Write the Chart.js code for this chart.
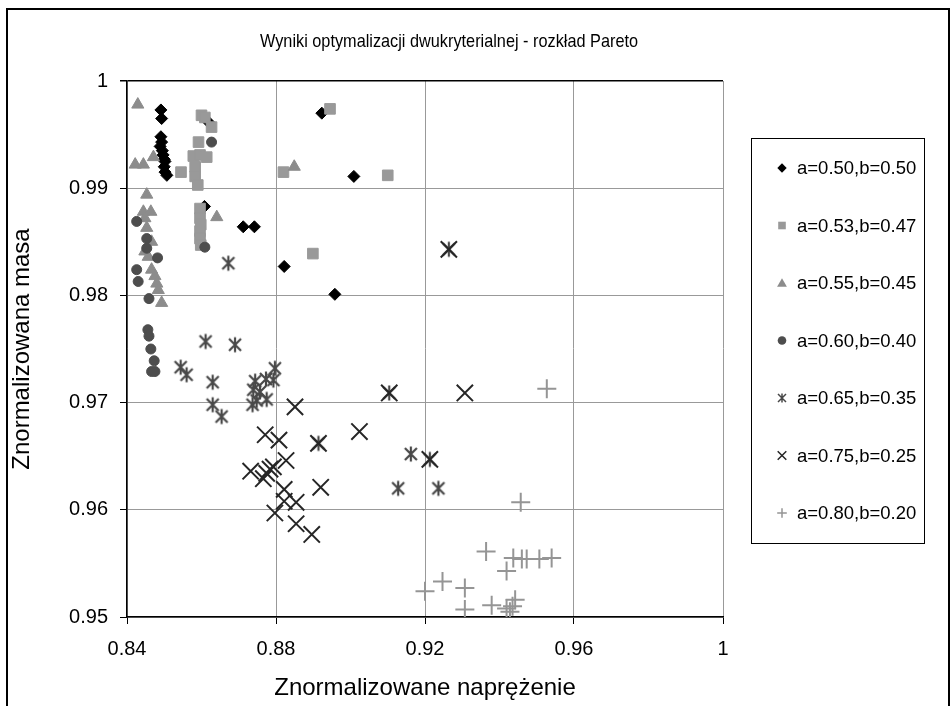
<!DOCTYPE html>
<html>
<head>
<meta charset="utf-8">
<script src="https://cdn.jsdelivr.net/npm/chart.js"></script>
<style>
  html, body { margin: 0; padding: 0; background: #fff; }
  #wrap { width: 951px; height: 706px; }
</style>
</head>
<body>
<div id="wrap"><canvas id="c" width="951" height="706"></canvas></div>
<script>
// Pareto front points: [normalized stress, normalized mass]
const s050 = [[0.8491,0.9973],[0.8493,0.9965],[0.8491,0.9948],[0.8493,0.9943],[0.8489,0.9939],[0.8495,0.9935],[0.8497,0.9931],[0.8500,0.9927],[0.8502,0.9925],[0.8500,0.9920],[0.8502,0.9915],[0.8507,0.9912],[0.8618,0.9962],[0.8608,0.9883],[0.8712,0.9864],[0.8742,0.9864],[0.8923,0.9970],[0.9009,0.9911],[0.8822,0.9827],[0.8958,0.9801]];
const s053 = [[0.8600,0.9968],[0.8609,0.9966],[0.8627,0.9957],[0.8592,0.9943],[0.8578,0.9930],[0.8596,0.9931],[0.8614,0.9929],[0.8583,0.9920],[0.8583,0.9911],[0.8590,0.9903],[0.8545,0.9915],[0.8596,0.9881],[0.8596,0.9872],[0.8598,0.9866],[0.8596,0.9860],[0.8596,0.9853],[0.8598,0.9847],[0.8945,0.9974],[0.8820,0.9915],[0.9100,0.9912],[0.8899,0.9839]];
const s055 = [[0.8429,0.9978],[0.8422,0.9922],[0.8444,0.9922],[0.8471,0.9929],[0.8453,0.9894],[0.8444,0.9878],[0.8464,0.9878],[0.8448,0.9872],[0.8453,0.9863],[0.8641,0.9873],[0.8849,0.9920],[0.8466,0.9850],[0.8448,0.9841],[0.8457,0.9836],[0.8466,0.9824],[0.8475,0.9818],[0.8480,0.9811],[0.8484,0.9805],[0.8493,0.9793]];
const s060 = [[0.8627,0.9943],[0.8426,0.9869],[0.8453,0.9853],[0.8453,0.9844],[0.8482,0.9835],[0.8426,0.9824],[0.8430,0.9813],[0.8459,0.9797],[0.8456,0.9768],[0.8459,0.9762],[0.8464,0.9750],[0.8473,0.9739],[0.8466,0.9729],[0.8475,0.9729],[0.8609,0.9845]];
const s065 = [[0.8672,0.9830],[0.8611,0.9757],[0.8690,0.9754],[0.8544,0.9733],[0.8560,0.9726],[0.8630,0.9719],[0.8630,0.9698],[0.8654,0.9687],[0.8744,0.9720],[0.8739,0.9712],[0.8757,0.9710],[0.8748,0.9702],[0.8737,0.9698],[0.8773,0.9722],[0.8793,0.9721],[0.8797,0.9732],[0.8775,0.9703],[0.9264,0.9843],[0.9104,0.9709],[0.9162,0.9652],[0.9213,0.9647],[0.9128,0.9620],[0.9236,0.9620],[0.8914,0.9662]];
const s075 = [[0.8851,0.9696],[0.8771,0.9670],[0.8808,0.9665],[0.8914,0.9662],[0.8827,0.9646],[0.8732,0.9636],[0.8766,0.9629],[0.8784,0.9638],[0.8793,0.9640],[0.8775,0.9634],[0.8920,0.9621],[0.8822,0.9619],[0.8822,0.9608],[0.8854,0.9607],[0.8797,0.9597],[0.8854,0.9587],[0.8896,0.9577],[0.9024,0.9673],[0.9307,0.9709],[0.9213,0.9647],[0.9104,0.9709],[0.9264,0.9843]];
const s080 = [[0.9527,0.9713],[0.9457,0.9607],[0.9364,0.9561],[0.9437,0.9555],[0.9460,0.9554],[0.9473,0.9554],[0.9507,0.9554],[0.9540,0.9555],[0.9419,0.9543],[0.9247,0.9533],[0.9200,0.9524],[0.9307,0.9527],[0.9307,0.9507],[0.9379,0.9511],[0.9419,0.9508],[0.9442,0.9516],[0.9428,0.9505],[0.9435,0.9510]];

const seriesNames = ['a=0.50,b=0.50','a=0.53,b=0.47','a=0.55,b=0.45','a=0.60,b=0.40','a=0.65,b=0.35','a=0.75,b=0.25','a=0.80,b=0.20'];
const xTicks = [0.84, 0.88, 0.92, 0.96, 1];
const xTickLabels = ['0.84', '0.88', '0.92', '0.96', '1'];
const yTicks = [0.95, 0.96, 0.97, 0.98, 0.99, 1];
const yTickLabels = ['0.95', '0.96', '0.97', '0.98', '0.99', '1'];
const chartTitle = 'Wyniki optymalizacji dwukryterialnej - rozkład Pareto';
const xTitle = 'Znormalizowane naprężenie';
const yTitle = 'Znormalizowana masa';

const FONT = 'Liberation Sans, Arial, sans-serif';

// asterisk marker: an X with a vertical bar
function asterisk(size, color, lw) {
  const cv = document.createElement('canvas');
  cv.width = size; cv.height = size;
  const g = cv.getContext('2d');
  const c = size / 2, h = size / 2 - 1.5;
  g.strokeStyle = color; g.lineWidth = lw; g.lineCap = 'butt';
  g.beginPath();
  g.moveTo(c, c - h); g.lineTo(c, c + h);
  const d = h * 0.8;
  g.moveTo(c - d, c - d); g.lineTo(c + d, c + d);
  g.moveTo(c + d, c - d); g.lineTo(c - d, c + d);
  g.stroke();
  return cv;
}

const styles = [
  { pointStyle: 'rectRot', radius: 6, color: '#000000', bw: 1 },
  { pointStyle: 'rect', radius: 7.5, color: '#999999', bw: 1 },
  { pointStyle: 'triangle', radius: 7, color: '#8c8c8c', bw: 1 },
  { pointStyle: 'circle', radius: 5, color: '#4d4d4d', bw: 1 },
  { pointStyle: asterisk(18, '#484848', 2.2), radius: 9, color: '#484848', bw: 2 },
  { pointStyle: 'crossRot', radius: 11.5, color: '#262626', bw: 2 },
  { pointStyle: 'cross', radius: 9.5, color: '#959595', bw: 2 }
];

const allSeries = [s050, s053, s055, s060, s065, s075, s080];

const datasets = allSeries.map((pts, i) => ({
  label: seriesNames[i],
  data: pts.map(p => ({ x: p[0], y: p[1] })),
  pointStyle: styles[i].pointStyle,
  pointRadius: styles[i].radius,
  pointBorderWidth: styles[i].bw,
  pointBackgroundColor: styles[i].color,
  pointBorderColor: styles[i].color,
  showLine: false,
  order: allSeries.length - i
}));

// small legend glyphs
function legendGlyph(ctx, i, x, y) {
  const col = styles[i].color;
  ctx.save();
  ctx.fillStyle = col; ctx.strokeStyle = col; ctx.lineWidth = 1.5;
  ctx.beginPath();
  if (i === 0) {
    ctx.moveTo(x, y - 4.7); ctx.lineTo(x + 4.7, y); ctx.lineTo(x, y + 4.7); ctx.lineTo(x - 4.7, y); ctx.closePath(); ctx.fill();
  } else if (i === 1) {
    ctx.rect(x - 3.8, y - 3.8, 7.6, 7.6); ctx.fill();
  } else if (i === 2) {
    ctx.moveTo(x, y - 4.8); ctx.lineTo(x + 4.9, y + 3.8); ctx.lineTo(x - 4.9, y + 3.8); ctx.closePath(); ctx.fill();
  } else if (i === 3) {
    ctx.arc(x, y, 4.3, 0, Math.PI * 2); ctx.fill();
  } else if (i === 4) {
    ctx.moveTo(x, y - 4.5); ctx.lineTo(x, y + 4.5);
    ctx.moveTo(x - 4, y - 4); ctx.lineTo(x + 4, y + 4);
    ctx.moveTo(x + 4, y - 4); ctx.lineTo(x - 4, y + 4); ctx.stroke();
  } else if (i === 5) {
    ctx.moveTo(x - 4.3, y - 4.3); ctx.lineTo(x + 4.3, y + 4.3);
    ctx.moveTo(x + 4.3, y - 4.3); ctx.lineTo(x - 4.3, y + 4.3); ctx.stroke();
  } else {
    ctx.moveTo(x - 4.8, y); ctx.lineTo(x + 4.8, y);
    ctx.moveTo(x, y - 4.8); ctx.lineTo(x, y + 4.8); ctx.stroke();
  }
  ctx.restore();
}

const decor = {
  id: 'decor',
  beforeDraw(chart) {
    const ctx = chart.ctx;
    ctx.save();
    ctx.fillStyle = '#fff';
    ctx.fillRect(0, 0, chart.width, chart.height);
    ctx.restore();
  },
  afterDraw(chart) {
    const ctx = chart.ctx;
    ctx.save();
    // outer frame
    ctx.strokeStyle = '#000'; ctx.lineWidth = 2;
    ctx.strokeRect(7, 9, 942, 720);
    // title, set in a slightly condensed face
    ctx.save();
    ctx.fillStyle = '#000';
    ctx.font = '18.5px ' + FONT;
    ctx.textAlign = 'center'; ctx.textBaseline = 'middle';
    ctx.translate(449, 42);
    ctx.scale(0.88, 1);
    ctx.fillText(chartTitle, 0, 0);
    ctx.restore();
    // legend box
    ctx.font = '18.5px ' + FONT;
    ctx.textBaseline = 'middle';
    ctx.lineWidth = 1; ctx.strokeStyle = '#000';
    ctx.strokeRect(751.5, 138.5, 173, 405);
    ctx.textAlign = 'left';
    const rows = [168, 225.5, 283, 340.5, 398, 455.5, 513];
    chart.data.datasets.forEach((ds, i) => {
      legendGlyph(ctx, i, 782, rows[i]);
      ctx.fillStyle = '#000';
      ctx.fillText(ds.label, 797, rows[i] + 1);
    });
    ctx.restore();
  }
};

new Chart(document.getElementById('c'), {
  type: 'scatter',
  data: { datasets },
  options: {
    responsive: false,
    devicePixelRatio: 1,
    animation: false,
    events: [],
    layout: { padding: { left: 0, right: 228, top: 81, bottom: 0 } },
    plugins: {
      legend: { display: false },
      title: { display: false },
      tooltip: { enabled: false }
    },
    scales: {
      x: {
        type: 'linear',
        min: 0.84, max: 1,
        afterBuildTicks: s => { s.ticks = xTicks.map(v => ({ value: v })); },
        afterFit: s => { s.height = 89; },
        ticks: {
          callback: (v, i) => xTickLabels[i],
          color: '#000',
          font: { family: FONT, size: 20 },
          padding: 13,
          maxRotation: 0
        },
        grid: { color: '#999999', lineWidth: 1, tickColor: '#000', tickLength: 7 },
        border: { color: '#000', width: 1.5 },
        title: {
          display: true, text: xTitle, color: '#000',
          font: { family: FONT, size: 24 },
          padding: { top: 0, bottom: 3.5 }
        }
      },
      y: {
        type: 'linear',
        min: 0.95, max: 1,
        afterBuildTicks: s => { s.ticks = yTicks.map(v => ({ value: v })); },
        afterFit: s => { s.width = 127; },
        ticks: {
          callback: (v, i) => yTickLabels[i],
          color: '#000',
          font: { family: FONT, size: 20 },
          padding: 12
        },
        grid: {
          color: c => (c.tick && c.tick.value === 1) ? '#000' : '#999999',
          lineWidth: c => (c.tick && c.tick.value === 1) ? 1.5 : 1,
          tickColor: '#000', tickLength: 7
        },
        border: { color: '#000', width: 1.5 },
        title: {
          display: true, text: yTitle, color: '#000',
          font: { family: FONT, size: 24 },
          padding: { top: 8, bottom: 0 }
        }
      }
    }
  },
  plugins: [decor]
});
</script>
</body>
</html>
